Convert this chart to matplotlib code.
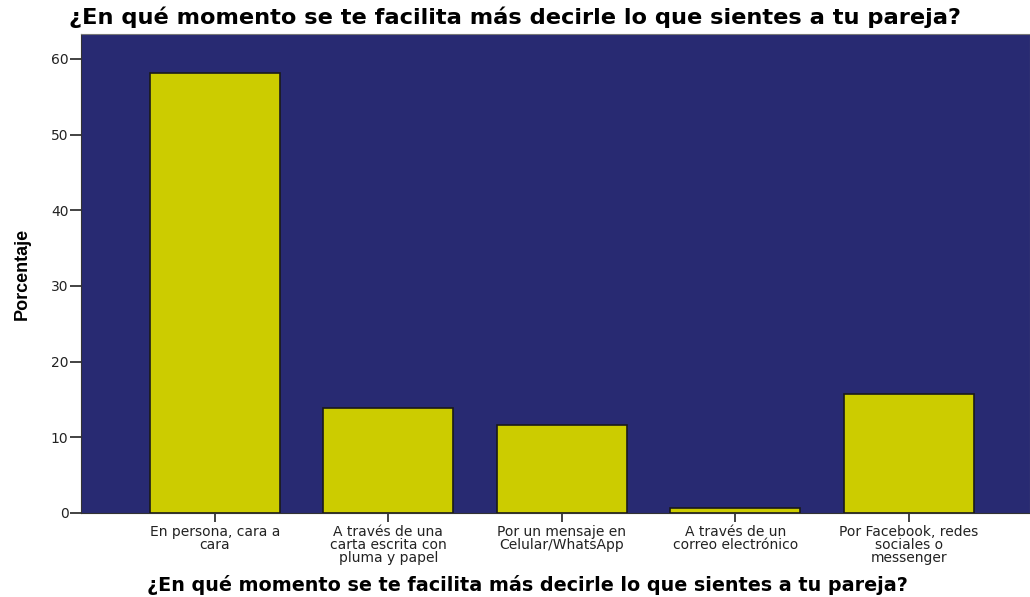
import matplotlib
matplotlib.use('Agg')
import matplotlib.pyplot as plt
from matplotlib import font_manager

# Data
categorias = [
    'En persona, cara a\ncara',
    'A través de una\ncarta escrita con\npluma y papel',
    'Por un mensaje en\nCelular/WhatsApp',
    'A través de un\ncorreo electrónico',
    'Por Facebook, redes\nsociales o\nmessenger',
]
porcentajes = [58.1, 13.9, 11.6, 0.6, 15.7]
yticks = [0, 10, 20, 30, 40, 50, 60]

titulo = '¿En qué momento se te facilita más decirle lo que sientes a tu pareja?'

# condensed font for the y label if available
nombres = {f.name for f in font_manager.fontManager.ttflist}
if 'Liberation Sans Narrow' in nombres:
    fam_y, size_y = ['Liberation Sans Narrow', 'DejaVu Sans'], 15.5
else:
    fam_y, size_y = ['Liberation Sans', 'DejaVu Sans'], 13

fig = plt.figure(figsize=(10.30, 5.97), dpi=100)
ax = fig.add_axes([81 / 1030, (597 - 513) / 597, 1 - 81 / 1030, (513 - 34) / 597])

ax.set_facecolor('#282a72')
x = list(range(len(categorias)))
ax.bar(x, porcentajes, width=0.75, color='#cccc00', edgecolor='#1a1a1a', linewidth=1.2, zorder=3)

ax.set_xlim(-0.773, 4.70)
ax.set_ylim(0, 63.3)
ax.set_yticks(yticks)
ax.set_xticks(x)
ax.set_xticklabels(categorias, fontsize=10, family=['DejaVu Sans'],
                   color='#222222', linespacing=0.92)
ax.tick_params(axis='y', labelsize=10, labelcolor='#222222', length=8, width=1.2,
               color='#222222', pad=1)
ax.tick_params(axis='x', length=6.5, width=1.2, color='#222222', pad=2)

for s in ax.spines.values():
    s.set_color('#777777')
ax.spines['left'].set_color('#333333')
ax.spines['bottom'].set_color('#333333')

ax.set_ylabel('Porcentaje', fontsize=size_y, fontweight='bold', family=fam_y)
ax.yaxis.set_label_coords(-(81 - 22) / 949, 0.5)
ax.yaxis.label.set_va('center')

ax.set_xlabel(titulo, fontsize=13.8, fontweight='bold', family=['DejaVu Sans'])
ax.xaxis.set_label_coords(0.5 - 28 / 949, -(585 - 513) / 479)
ax.xaxis.label.set_va('center')

fig.text(0.5, 1 - 17 / 597, titulo, ha='center', va='center', fontsize=16.2,
         fontweight='bold', family=['DejaVu Sans'])

fig.savefig('out.png', dpi=100)
